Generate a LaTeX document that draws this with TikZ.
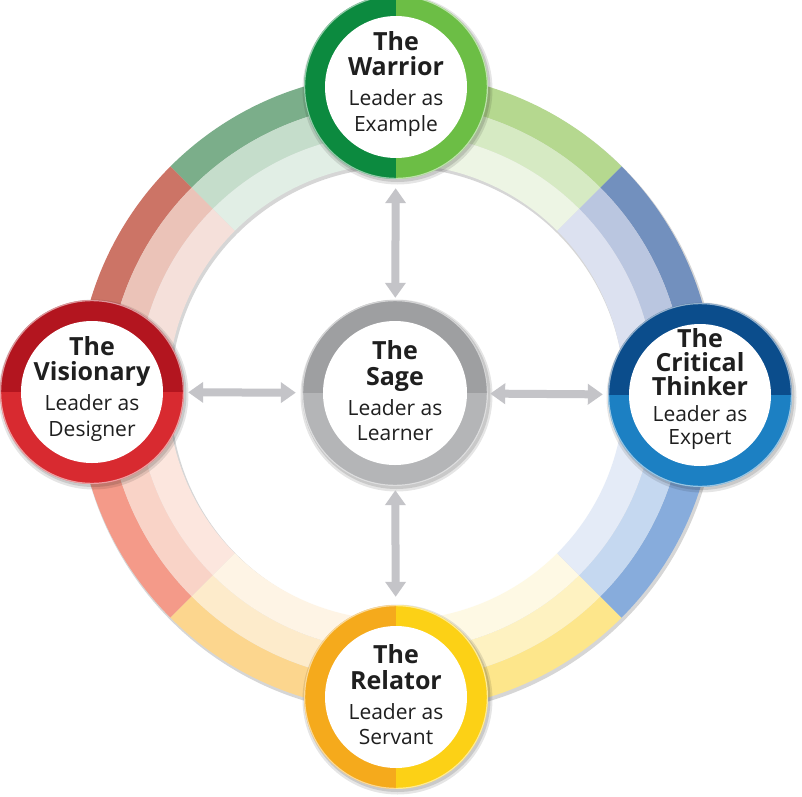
\documentclass[tikz,border=0pt]{standalone}
\usepackage{fontspec}
\setmainfont{Open Sans}
\usetikzlibrary{arrows.meta}
% ring colours: outer / middle / inner band
\definecolor{gLo}{HTML}{B5D88F}\definecolor{gLm}{HTML}{D6EAC3}\definecolor{gLi}{HTML}{EDF5E4}
\definecolor{gDo}{HTML}{7BAE8A}\definecolor{gDm}{HTML}{C5DDCB}\definecolor{gDi}{HTML}{E1EEE5}
\definecolor{rDo}{HTML}{CC7466}\definecolor{rDm}{HTML}{EBC3B8}\definecolor{rDi}{HTML}{F5E0DA}
\definecolor{rLo}{HTML}{F49A89}\definecolor{rLm}{HTML}{F9D3C7}\definecolor{rLi}{HTML}{FCE6DE}
\definecolor{oDo}{HTML}{FCD68E}\definecolor{oDm}{HTML}{FDEBCB}\definecolor{oDi}{HTML}{FEF4E5}
\definecolor{yLo}{HTML}{FDE68B}\definecolor{yLm}{HTML}{FEF2C1}\definecolor{yLi}{HTML}{FEF9E4}
\definecolor{bLo}{HTML}{87ACDC}\definecolor{bLm}{HTML}{C5D8F0}\definecolor{bLi}{HTML}{E4EBF7}
\definecolor{bDo}{HTML}{7290BE}\definecolor{bDm}{HTML}{BAC6E0}\definecolor{bDi}{HTML}{DCE1F0}
% bubble colours
\definecolor{wA}{HTML}{0C8A3F}\definecolor{wB}{HTML}{6CBE45}
\definecolor{vA}{HTML}{B3151F}\definecolor{vB}{HTML}{D82A30}
\definecolor{cA}{HTML}{0B4D8C}\definecolor{cB}{HTML}{1C80C3}
\definecolor{rA}{HTML}{F5AA1C}\definecolor{rB}{HTML}{FCD116}
\definecolor{sA}{HTML}{9E9FA1}\definecolor{sB}{HTML}{B4B5B7}
\definecolor{arrowgray}{HTML}{C4C4C8}

\newcommand\rseg[5]{\fill[#5] (#1:#4) arc[start angle=#1,end angle=#2,radius=#4] -- (#2:#3) arc[start angle=#2,end angle=#1,radius=#3] -- cycle;}
% x, y, start angle of first half, colour 1, colour 2, radius
\newcommand\bub[6]{%
  \fill[black,opacity=0.10] (#1+1.5,#2-2.5) circle[radius=#6+3];
  \fill[black,opacity=0.12] (#1+1.5,#2-2) circle[radius=#6+1];
  \fill[#4] (#1,#2) -- ++(#3:#6) arc[start angle=#3,delta angle=180,radius=#6] -- cycle;
  \fill[#5] (#1,#2) -- ++(#3+180:#6) arc[start angle=#3+180,delta angle=180,radius=#6] -- cycle;
  \draw[white,opacity=0.55,line width=1.2pt] (#1,#2) circle[radius=#6-0.6];
  \fill[white] (#1,#2) circle[radius=#6-21];
}
\newcommand\ttl{\fontsize{25}{25.5}\selectfont\bfseries}

\begin{document}
\begin{tikzpicture}[x=1pt,y=1pt,
  lbl/.style={align=center,font=\fontsize{21}{25.5}\selectfont,inner sep=0pt,text=black!88},
  bubble/.style={circle,minimum size=184pt,inner sep=0pt},
  hub/.style={circle,minimum size=186pt,inner sep=0pt},
  arr/.style={{Triangle[width=20pt,length=15pt]}-{Triangle[width=20pt,length=15pt]},line width=8pt,draw=arrowgray}]
\useasboundingbox[fill=white] (-396,-404) rectangle (406,392);

% ring shadow
\fill[black,opacity=0.16,even odd rule] (1.5,-2.5) circle[radius=320] (1.5,-2.5) circle[radius=227];
% ring segments
\rseg{45}{90}{289}{319}{gLo}\rseg{45}{90}{259}{289}{gLm}\rseg{45}{90}{228}{259}{gLi}
\rseg{90}{135}{289}{319}{gDo}\rseg{90}{135}{259}{289}{gDm}\rseg{90}{135}{228}{259}{gDi}
\rseg{135}{180}{289}{319}{rDo}\rseg{135}{180}{259}{289}{rDm}\rseg{135}{180}{228}{259}{rDi}
\rseg{180}{225}{289}{319}{rLo}\rseg{180}{225}{259}{289}{rLm}\rseg{180}{225}{228}{259}{rLi}
\rseg{225}{270}{289}{319}{oDo}\rseg{225}{270}{259}{289}{oDm}\rseg{225}{270}{228}{259}{oDi}
\rseg{270}{315}{289}{319}{yLo}\rseg{270}{315}{259}{289}{yLm}\rseg{270}{315}{228}{259}{yLi}
\rseg{315}{360}{289}{319}{bLo}\rseg{315}{360}{259}{289}{bLm}\rseg{315}{360}{228}{259}{bLi}
\rseg{0}{45}{289}{319}{bDo}\rseg{0}{45}{259}{289}{bDm}\rseg{0}{45}{228}{259}{bDi}

% bubbles
\bub{0}{305}{90}{wA}{wB}{92}
\bub{-304}{0}{0}{vA}{vB}{92}
\bub{304}{-3}{0}{cA}{cB}{92}
\bub{0}{-305}{90}{rA}{rB}{92}
\bub{-1}{-1}{0}{sA}{sB}{93}

\node[bubble] (warrior) at (0,305) {};
\node[bubble] (visionary) at (-304,0) {};
\node[bubble] (critical) at (304,-3) {};
\node[bubble] (relator) at (0,-305) {};
\node[hub] (sage) at (-1,-1) {};

\node[lbl,yshift=3pt] (warrior-t) at (warrior) {\ttl The\\\ttl Warrior\\[4.5pt]Leader as\\Example};
\node[lbl,yshift=3pt] (visionary-t) at (visionary) {\ttl The\\\ttl Visionary\\[4.5pt]Leader as\\Designer};
\node[lbl,yshift=6pt] (critical-t) at (critical) {\ttl The\\[-1.5pt]\ttl Critical\\[-1.5pt]\ttl Thinker\\[1pt]Leader as\\[-3pt]Expert};
\node[lbl,yshift=2pt] (relator-t) at (relator) {\ttl The\\\ttl Relator\\[4.5pt]Leader as\\Servant};
\node[lbl,yshift=2pt] (sage-t) at (sage) {\ttl The\\\ttl Sage\\[4.5pt]Leader as\\Learner};

% arrows
\draw[arr,shorten <=9pt,shorten >=2pt] (warrior) -- (sage);
\draw[arr,shorten <=8pt,shorten >=4pt] (relator) -- (sage);
\draw[arr,shorten <=4pt,shorten >=6pt] (visionary) -- (sage);
\draw[arr,shorten <=5pt,shorten >=2pt] (critical) -- (sage);
\end{tikzpicture}
\end{document}
